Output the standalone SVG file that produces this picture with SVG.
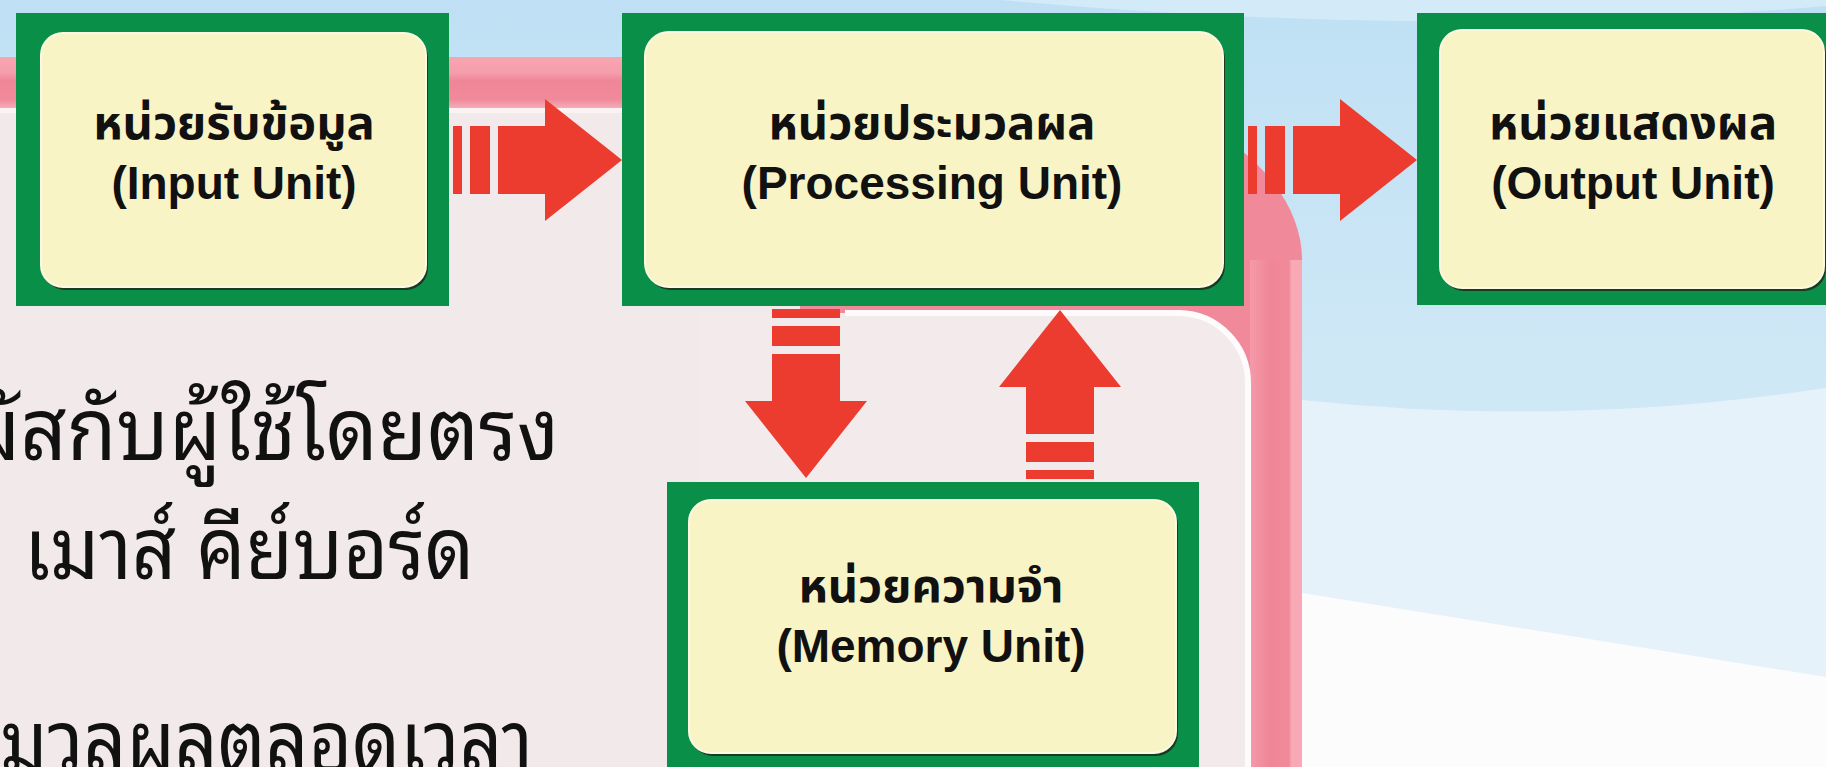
<svg xmlns="http://www.w3.org/2000/svg" width="1826" height="767" viewBox="0 0 1826 767">
<style>
.green{fill:#0a8f48}
.cream{fill:#f8f4c6;stroke:#fcfae2;stroke-width:2}
.shadow{fill:#1b3a22}
.th{font-family:"Noto Sans Thai","Noto Sans",sans-serif;font-weight:bold;font-size:47px;fill:#111;text-anchor:middle}
.en{font-family:"Liberation Sans",Arial,sans-serif;font-weight:bold;font-size:46px;fill:#111;text-anchor:middle}
.big{font-family:"Noto Sans Thai Looped","Noto Sans Thai","Noto Sans",sans-serif;font-size:86px;fill:#111}
.arrow{fill:#ec3b2f}
</style>
<defs>
<linearGradient id="sky" x1="0" y1="0" x2="0" y2="1">
<stop offset="0" stop-color="#bfe0f4"/>
<stop offset="0.5" stop-color="#cfe8f6"/>
<stop offset="1" stop-color="#d3eaf7"/>
</linearGradient>
<linearGradient id="bandTop" x1="0" y1="0" x2="0" y2="1">
<stop offset="0" stop-color="#f8a5b2"/>
<stop offset="0.3" stop-color="#f59dab"/>
<stop offset="0.45" stop-color="#ef8697"/>
<stop offset="0.8" stop-color="#f08a9b"/>
<stop offset="1" stop-color="#f6b4bf"/>
</linearGradient>
<linearGradient id="bandRight" x1="0" y1="0" x2="1" y2="0">
<stop offset="0" stop-color="#f59aa9"/>
<stop offset="0.4" stop-color="#ef8697"/>
<stop offset="0.75" stop-color="#f08a9b"/>
<stop offset="0.8" stop-color="#f9a8b5"/>
<stop offset="1" stop-color="#f9a8b5"/>
</linearGradient>
<g id="arrowR">
<rect x="-169" y="-34" width="9" height="68"/>
<rect x="-152" y="-34" width="20" height="68"/>
<polygon points="-124,-34 -77,-34 -77,-61 0,0 -77,61 -77,34 -124,34"/>
</g>
</defs>

<g id="background">
<rect x="0" y="0" width="1826" height="767" fill="url(#sky)"/>
<path d="M 1000 0 Q 1450 40 1826 6 V 0 Z" fill="#dbeef9" opacity="0.7"/>
<path d="M 1302 400 Q 1560 428 1826 388 V 767 H 1302 Z" fill="#e6f2fa"/>
<polygon points="1302,593 1826,677 1826,767 1302,767" fill="#fcfcfd"/>
</g>

<g id="frame">
<path d="M -10 57 H 920 A 382 203 0 0 1 1302 260 V 780 H -10 Z" fill="#f08a9b"/>
<rect x="-10" y="57" width="940" height="53" fill="url(#bandTop)"/>
<rect x="1250" y="260" width="52" height="520" fill="url(#bandRight)"/>
<rect x="-10" y="108" width="810" height="680" fill="#f2e9ea"/>
<rect x="-10" y="108" width="810" height="5" fill="#faf3f4"/>
<path d="M 700 313 H 1179 A 70 70 0 0 1 1249 383 V 780 H 700 Z" fill="#f2eaeb"/>
<path d="M 845 313 H 1179 A 70 70 0 0 1 1248 383 V 780" fill="none" stroke="#fdfbfb" stroke-width="6"/>
</g>

<g id="notes">
<text class="big" transform="translate(-32,460) scale(0.94,1)">ผัสกับผู้ใช้โดยตรง</text>
<text class="big" transform="translate(24,579) scale(0.9,1)">เมาส์ คีย์บอร์ด</text>
<text class="big" transform="translate(0,772) scale(0.87,1)">มวลผลตลอดเวลา</text>
</g>

<g id="connectors" class="arrow">
<use href="#arrowR" transform="translate(622,160)"/>
<use href="#arrowR" transform="translate(1417,160)"/>
<use href="#arrowR" transform="translate(806,478) rotate(90)"/>
<use href="#arrowR" transform="translate(1060,310) rotate(-90)"/>
</g>

<g id="input-unit">
<rect class="green" x="16" y="13" width="433" height="293"/>
<rect class="shadow" x="43" y="36" width="385" height="254" rx="22"/>
<rect class="cream" x="41" y="33" width="385" height="254" rx="22"/>
<text class="th" x="234" y="139">หน่วยรับข้อมูล</text>
<text class="en" x="234" y="199">(Input Unit)</text>
</g>

<g id="processing-unit">
<rect class="green" x="622" y="13" width="622" height="293"/>
<rect class="shadow" x="647" y="35" width="578" height="255" rx="24"/>
<rect class="cream" x="645" y="32" width="578" height="255" rx="24"/>
<text class="th" x="932" y="139">หน่วยประมวลผล</text>
<text class="en" x="932" y="199">(Processing Unit)</text>
</g>

<g id="output-unit">
<rect class="green" x="1417" y="13" width="440" height="292"/>
<rect class="shadow" x="1442" y="33" width="384" height="258" rx="22"/>
<rect class="cream" x="1440" y="30" width="384" height="258" rx="22"/>
<text class="th" x="1633" y="139">หน่วยแสดงผล</text>
<text class="en" x="1633" y="199">(Output Unit)</text>
</g>

<g id="memory-unit">
<rect class="green" x="667" y="482" width="532" height="300"/>
<rect class="shadow" x="691" y="503" width="487" height="253" rx="22"/>
<rect class="cream" x="689" y="500" width="487" height="253" rx="22"/>
<text class="th" x="931" y="602">หน่วยความจำ</text>
<text class="en" x="931" y="662">(Memory Unit)</text>
</g>
</svg>
